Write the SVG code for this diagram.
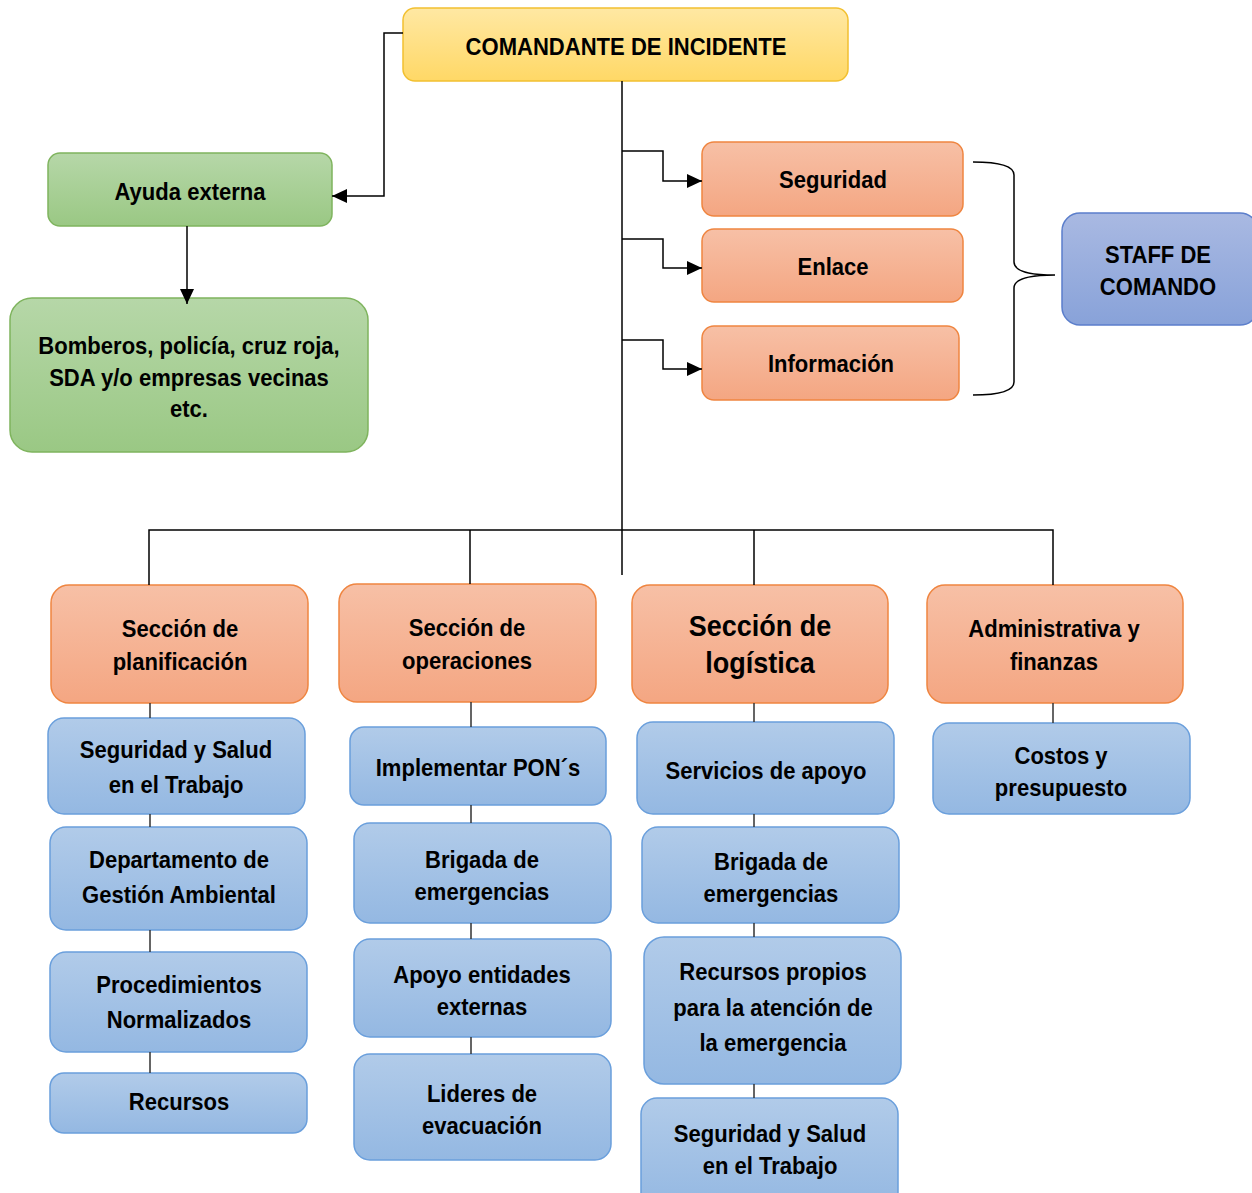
<svg xmlns="http://www.w3.org/2000/svg" width="1252" height="1193" viewBox="0 0 1252 1193">
<defs>
<linearGradient id="gY" x1="0" y1="0" x2="0" y2="1"><stop offset="0" stop-color="#ffe8a3"/><stop offset="1" stop-color="#ffd866"/></linearGradient>
<linearGradient id="gG" x1="0" y1="0" x2="0" y2="1"><stop offset="0" stop-color="#b6d7a8"/><stop offset="1" stop-color="#9ac884"/></linearGradient>
<linearGradient id="gO" x1="0" y1="0" x2="0" y2="1"><stop offset="0" stop-color="#f7c0a6"/><stop offset="1" stop-color="#f4a682"/></linearGradient>
<linearGradient id="gB" x1="0" y1="0" x2="0" y2="1"><stop offset="0" stop-color="#b1cbe9"/><stop offset="1" stop-color="#94b8e2"/></linearGradient>
<linearGradient id="gS" x1="0" y1="0" x2="0" y2="1"><stop offset="0" stop-color="#a9b9e2"/><stop offset="1" stop-color="#88a2d9"/></linearGradient>
<marker id="arr" markerUnits="userSpaceOnUse" markerWidth="16" markerHeight="14" refX="15" refY="7" orient="auto"><path d="M0,0 L15,7 L0,14 Z" fill="#000"/></marker>
</defs>
<style>
text{font-family:"Liberation Sans",Arial,sans-serif;font-weight:bold;font-size:24.5px;text-anchor:middle;fill:#000}
.big{font-size:30px}
.y{fill:url(#gY);stroke:#f2c030;stroke-width:1.5}
.g{fill:url(#gG);stroke:#7fb45e;stroke-width:1.5}
.o{fill:url(#gO);stroke:#ef8540;stroke-width:1.5}
.b{fill:url(#gB);stroke:#6a9fdc;stroke-width:1.5}
.s{fill:url(#gS);stroke:#5b7ecb;stroke-width:1.5}
.ln{fill:none;stroke:#000;stroke-width:1.5}
.ln2{fill:none;stroke:#333;stroke-width:1.5}
</style>
<g id="comandante"><rect class="y" x="403" y="8" width="445" height="73" rx="12"/><text transform="translate(626,55) scale(0.9,1)">COMANDANTE DE INCIDENTE</text></g>
<g id="ayuda"><rect class="g" x="48" y="153" width="284" height="73" rx="12"/><text transform="translate(190,200) scale(0.9,1)">Ayuda externa</text></g>
<g id="bomberos"><rect class="g" x="10" y="298" width="358" height="154" rx="22"/><text transform="translate(189,354) scale(0.9,1)">Bomberos, policía, cruz roja,</text><text transform="translate(189,386) scale(0.9,1)">SDA y/o empresas vecinas</text><text transform="translate(189,417) scale(0.9,1)">etc.</text></g>
<g id="seguridad"><rect class="o" x="702" y="142" width="261" height="74" rx="12"/><text transform="translate(833,188) scale(0.9,1)">Seguridad</text></g>
<g id="enlace"><rect class="o" x="702" y="229" width="261" height="73" rx="12"/><text transform="translate(833,275) scale(0.9,1)">Enlace</text></g>
<g id="informacion"><rect class="o" x="702" y="326" width="257" height="74" rx="12"/><text transform="translate(831,372) scale(0.9,1)">Información</text></g>
<g id="staff"><rect class="s" x="1062" y="213" width="196" height="112" rx="18"/><text transform="translate(1158,263) scale(0.9,1)">STAFF DE</text><text transform="translate(1158,295) scale(0.9,1)">COMANDO</text></g>
<g id="planificacion"><rect class="o" x="51" y="585" width="257" height="118" rx="18"/><text transform="translate(180,637) scale(0.9,1)">Sección de</text><text transform="translate(180,670) scale(0.9,1)">planificación</text></g>
<g id="operaciones"><rect class="o" x="339" y="584" width="257" height="118" rx="18"/><text transform="translate(467,636) scale(0.9,1)">Sección de</text><text transform="translate(467,669) scale(0.9,1)">operaciones</text></g>
<g id="logistica"><rect class="o" x="632" y="585" width="256" height="118" rx="18"/><text class="big" transform="translate(760,636) scale(0.9,1)">Sección de</text><text class="big" transform="translate(760,673) scale(0.9,1)">logística</text></g>
<g id="administrativa"><rect class="o" x="927" y="585" width="256" height="118" rx="18"/><text transform="translate(1054,637) scale(0.9,1)">Administrativa y</text><text transform="translate(1054,670) scale(0.9,1)">finanzas</text></g>
<g id="sst1"><rect class="b" x="48" y="718" width="257" height="96" rx="16"/><text transform="translate(176,758) scale(0.9,1)">Seguridad y Salud</text><text transform="translate(176,793) scale(0.9,1)">en el Trabajo</text></g>
<g id="dga"><rect class="b" x="50" y="827" width="257" height="103" rx="16"/><text transform="translate(179,868) scale(0.9,1)">Departamento de</text><text transform="translate(179,903) scale(0.9,1)">Gestión Ambiental</text></g>
<g id="procedimientos"><rect class="b" x="50" y="952" width="257" height="100" rx="16"/><text transform="translate(179,993) scale(0.9,1)">Procedimientos</text><text transform="translate(179,1028) scale(0.9,1)">Normalizados</text></g>
<g id="recursos"><rect class="b" x="50" y="1073" width="257" height="60" rx="14"/><text transform="translate(179,1110) scale(0.9,1)">Recursos</text></g>
<g id="pons"><rect class="b" x="350" y="727" width="256" height="78" rx="14"/><text transform="translate(478,776) scale(0.9,1)">Implementar PON´s</text></g>
<g id="brigada1"><rect class="b" x="354" y="823" width="257" height="100" rx="16"/><text transform="translate(482,868) scale(0.9,1)">Brigada de</text><text transform="translate(482,900) scale(0.9,1)">emergencias</text></g>
<g id="apoyo"><rect class="b" x="354" y="939" width="257" height="98" rx="16"/><text transform="translate(482,983) scale(0.9,1)">Apoyo entidades</text><text transform="translate(482,1015) scale(0.9,1)">externas</text></g>
<g id="lideres"><rect class="b" x="354" y="1054" width="257" height="106" rx="16"/><text transform="translate(482,1102) scale(0.9,1)">Lideres de</text><text transform="translate(482,1134) scale(0.9,1)">evacuación</text></g>
<g id="servicios"><rect class="b" x="637" y="722" width="257" height="92" rx="16"/><text transform="translate(766,779) scale(0.9,1)">Servicios de apoyo</text></g>
<g id="brigada2"><rect class="b" x="642" y="827" width="257" height="96" rx="16"/><text transform="translate(771,870) scale(0.9,1)">Brigada de</text><text transform="translate(771,902) scale(0.9,1)">emergencias</text></g>
<g id="propios"><rect class="b" x="644" y="937" width="257" height="147" rx="20"/><text transform="translate(773,980) scale(0.9,1)">Recursos propios</text><text transform="translate(773,1016) scale(0.9,1)">para la atención de</text><text transform="translate(773,1051) scale(0.9,1)">la emergencia</text></g>
<g id="sst2"><rect class="b" x="641" y="1098" width="257" height="110" rx="16"/><text transform="translate(770,1142) scale(0.9,1)">Seguridad y Salud</text><text transform="translate(770,1174) scale(0.9,1)">en el Trabajo</text></g>
<g id="costos"><rect class="b" x="933" y="723" width="257" height="91" rx="16"/><text transform="translate(1061,764) scale(0.9,1)">Costos y</text><text transform="translate(1061,796) scale(0.9,1)">presupuesto</text></g>
<g id="connectors">
<path class="ln" d="M403,33 H384 V196 H332" marker-end="url(#arr)"/>
<path class="ln" d="M187,226 V304" marker-end="url(#arr)"/>
<path class="ln" d="M622,81 V575"/>
<path class="ln" d="M622,151 H663 V181 H702" marker-end="url(#arr)"/>
<path class="ln" d="M622,239 H663 V268 H702" marker-end="url(#arr)"/>
<path class="ln" d="M622,340 H663 V369 H702" marker-end="url(#arr)"/>
<path class="ln" d="M973,162 Q1014,162 1014,175 V262 Q1014,275 1055,275 Q1014,275 1014,288 V382 Q1014,395 973,395"/>
<path class="ln" d="M149,585 V530 H1053 V585"/>
<path class="ln" d="M470,530 V584"/>
<path class="ln" d="M754,530 V585"/>
<path class="ln2" d="M150,703 V718 M150,814 V827 M150,930 V952 M150,1052 V1073"/>
<path class="ln2" d="M471,702 V727 M471,805 V823 M471,923 V939 M471,1037 V1054"/>
<path class="ln2" d="M754,703 V722 M754,814 V827 M754,923 V937 M754,1084 V1098"/>
<path class="ln2" d="M1053,703 V723"/>
</g>
</svg>
